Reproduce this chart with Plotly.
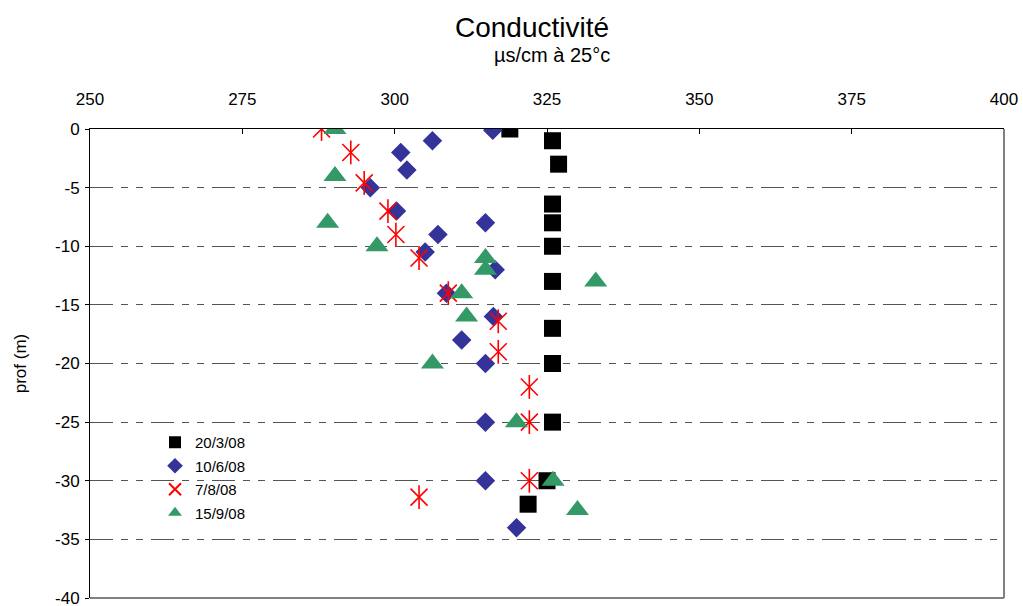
import plotly.graph_objects as go

# ---- data ----
series_names = ["20/3/08", "10/6/08", "7/8/08", "15/9/08"]

cond_2003 = [318.9, 325.9, 326.9, 325.9, 325.9, 325.9, 325.9, 325.9, 325.9, 325.9, 325.0, 321.9]
prof_2003 = [0, -1, -3, -6.4, -8, -10, -13, -17, -20, -25, -30, -32]

cond_1006 = [316.1, 306.2, 301.0, 302.0, 296.0, 300.3, 314.9, 307.1, 305.0, 316.5, 308.5, 316.2, 311.0, 314.9, 314.9, 314.9, 320.0]
prof_1006 = [-0.1, -1, -2, -3.5, -5, -7, -8, -9, -10.5, -12, -14, -16, -18, -20, -25, -30, -34]

cond_0708 = [288.0, 292.8, 295.0, 298.9, 300.2, 304.0, 308.8, 317.0, 317.0, 322.1, 322.1, 322.1, 304.0]
prof_0708 = [0, -2, -4.6, -7, -9, -11, -14, -16.4, -19, -22, -25, -30, -31.4]

cond_1509 = [290.2, 290.2, 289.0, 297.1, 314.9, 314.9, 333.0, 311.0, 311.8, 306.2, 320.0, 326.0, 330.0]
prof_1509 = [0, -4, -8, -10, -11, -12, -13, -14, -16, -20, -25, -30, -32.5]

x_ticks = [250, 275, 300, 325, 350, 375, 400]
y_ticks = [0, -5, -10, -15, -20, -25, -30, -35, -40]

FONT = "Liberation Sans, Arial, sans-serif"

TOP, BOT = 129, 8
PLOT_H = 606 - TOP - BOT
PLOT_BOTTOM_PX = 606 - BOT

fig = go.Figure()

fig.add_trace(go.Scatter(
    x=cond_2003, y=prof_2003, mode="markers", name=series_names[0], legendgroup="a",
    marker=dict(symbol="square", size=17, color="#000000", line=dict(width=0)),
))
fig.add_trace(go.Scatter(
    x=cond_1006, y=prof_1006, mode="markers", name=series_names[1], legendgroup="b",
    marker=dict(symbol="diamond", size=15, color="#333399", line=dict(width=0)),
))
fig.add_trace(go.Scatter(
    x=cond_0708, y=prof_0708, mode="markers", name=series_names[2], legendgroup="c",
    marker=dict(symbol="x-thin-open", size=17, color="#FF0000", line=dict(width=1.6, color="#FF0000")),
))
fig.add_trace(go.Scatter(
    x=cond_0708, y=prof_0708, mode="markers", name=series_names[2], legendgroup="c",
    showlegend=False, hoverinfo="skip",
    marker=dict(symbol="line-ns-open", size=17, color="#FF0000", line=dict(width=1.6, color="#FF0000")),
))
fig.add_trace(go.Scatter(
    x=cond_1509, y=prof_1509, mode="markers", name=series_names[3], legendgroup="d",
    marker=dict(symbol="triangle-up", size=20, color="#339966", line=dict(width=0)),
))

GRID_DASH = "23px,8px,7px,8px,7px,8px"

fig.update_layout(
    width=1023, height=606,
    margin=dict(l=90, r=19, t=TOP, b=BOT),
    paper_bgcolor="white", plot_bgcolor="white",
    font=dict(family=FONT, color="black"),
    title=dict(text="Conductivité", x=532 / 1023, xanchor="center",
               y=1 - 27 / 606, yanchor="middle", yref="container",
               font=dict(size=28, family=FONT, color="black")),
    xaxis=dict(
        side="top", range=[250, 400], tickvals=x_ticks, ticktext=[str(v) for v in x_ticks],
        showline=True, linecolor="black", linewidth=1,
        ticks="inside", ticklen=5, tickcolor="black", tickwidth=1,
        showgrid=False, zeroline=False, automargin=False,
        tickfont=dict(size=17, family=FONT, color="black"),
        ticklabelstandoff=16, ticklabeloverflow="allow",
    ),
    yaxis=dict(
        range=[-40, 0], tickvals=y_ticks, ticktext=[str(v) for v in y_ticks],
        showline=True, linecolor="black", linewidth=1,
        ticks="outside", ticklen=4, tickcolor="black", tickwidth=1,
        showgrid=True, gridcolor="#555555", gridwidth=1, griddash=GRID_DASH,
        zeroline=False, automargin=False,
        tickfont=dict(size=17, family=FONT, color="black"),
        ticklabelstandoff=2, ticklabeloverflow="allow",
        title=dict(text="prof (m)", font=dict(size=17, family=FONT, color="black"), standoff=24),
    ),
    legend=dict(
        x=(155 - 90) / 914, y=(PLOT_BOTTOM_PX - 426) / PLOT_H, xanchor="left", yanchor="top",
        bgcolor="rgba(0,0,0,0)", borderwidth=0,
        font=dict(size=15, family=FONT, color="black"),
        tracegroupgap=1, itemsizing="constant",
    ),
    annotations=[dict(
        text="µs/cm à 25°c", x=(552 - 90) / 914, y=(PLOT_BOTTOM_PX - 55) / PLOT_H,
        xref="paper", yref="paper", xanchor="center", yanchor="middle",
        showarrow=False, font=dict(size=20, family=FONT, color="black"),
    )],
    shapes=[
        dict(type="line", xref="paper", yref="paper", x0=1, x1=1, y0=0, y1=1,
             line=dict(color="#808080", width=2), layer="between"),
        dict(type="line", xref="paper", yref="paper", x0=0, x1=1, y0=0, y1=0,
             line=dict(color="#808080", width=2), layer="between"),
    ],
    showlegend=True,
)

fig.write_html(
    "out.html",
    config={"displayModeBar": False},
    post_script="document.body.style.margin='0';document.body.style.padding='0';"
                "document.documentElement.style.overflow='hidden';",
)
